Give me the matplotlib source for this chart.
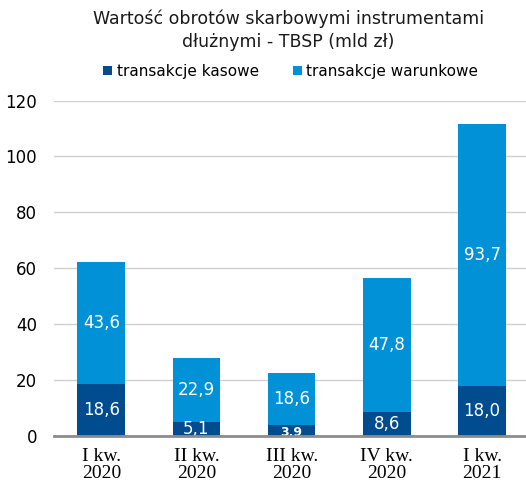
import matplotlib.pyplot as plt
import numpy as np

plt.rcParams["font.family"] = ["DejaVu Sans"]

categories = ["I kw.\n2020", "II kw.\n2020", "III kw.\n2020", "IV kw.\n2020", "I kw.\n2021"]
kasowe = [18.6, 5.1, 3.9, 8.6, 18.0]
warunkowe = [43.6, 22.9, 18.6, 47.8, 93.7]

DARK = "#004c8f"
LIGHT = "#0091d6"

fig = plt.figure(figsize=(5.26, 4.86), dpi=100)
ax = fig.add_axes([0.102, 0.103, 0.905, 0.69])

x = np.arange(len(categories))
w = 0.5
ax.bar(x, kasowe, w, color=DARK, label="transakcje kasowe", zorder=3)
ax.bar(x, warunkowe, w, bottom=kasowe, color=LIGHT, label="transakcje warunkowe", zorder=3)

def fmt(v):
    return f"{v:.1f}".replace(".", ",")

for i in range(len(categories)):
    if kasowe[i] < 5:
        ax.text(x[i], kasowe[i] / 2 - 0.6, fmt(kasowe[i]), ha="center", va="center",
                color="white", fontsize=9, fontweight="bold", zorder=4)
    else:
        ax.text(x[i], kasowe[i] / 2, fmt(kasowe[i]), ha="center", va="center",
                color="white", fontsize=12, zorder=4)
    ax.text(x[i], kasowe[i] + warunkowe[i] / 2, fmt(warunkowe[i]), ha="center", va="center",
            color="white", fontsize=12, zorder=4)

ax.set_xlim(-0.5, len(categories) - 0.5)
ax.set_ylim(0, 120)
ax.set_yticks(range(0, 121, 20))
ax.yaxis.grid(True, color="#d0d0d0", linewidth=1, zorder=0)
ax.set_xticks(x)
ax.set_xticklabels(categories, family="Liberation Serif", fontsize=14, linespacing=0.95)
ax.tick_params(axis="y", labelsize=12, length=0, pad=12)
ax.tick_params(axis="x", length=0, pad=9)
for s in ["top", "right", "left"]:
    ax.spines[s].set_visible(False)
ax.spines["bottom"].set_color("#8c8c8c")
ax.spines["bottom"].set_linewidth(2)
ax.spines["bottom"].set_zorder(5)

fig.text(0.548, 0.937, "Wartość obrotów skarbowymi instrumentami\ndłużnymi - TBSP (mld zł)",
         ha="center", va="center", fontsize=12.5, color="#1a1a1a", linespacing=1.35)
fig.legend(loc="center", bbox_to_anchor=(0.553, 0.853), ncol=2, frameon=False,
           fontsize=11, handlelength=0.6, handleheight=0.6, handletextpad=0.3,
           columnspacing=2.2)

fig.savefig("out.png", dpi=100)
